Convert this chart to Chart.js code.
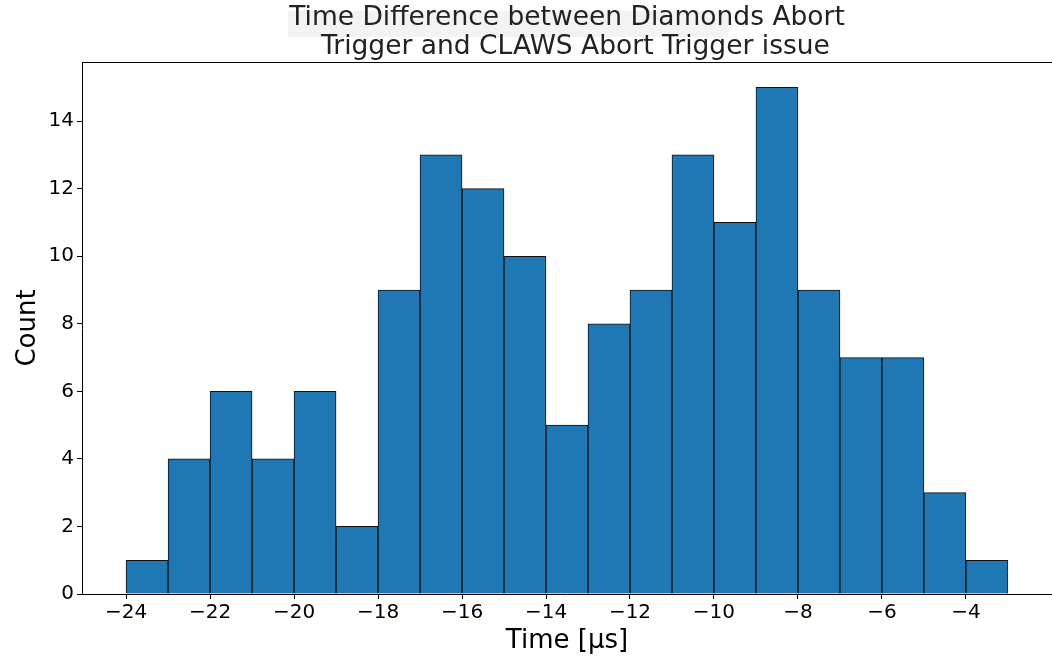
<!DOCTYPE html>
<html>
<head>
<meta charset="utf-8">
<script src="https://cdn.jsdelivr.net/npm/chart.js@4"></script>
<style>
  html, body { margin: 0; padding: 0; background: #fff; }
  #wrap { width: 1052px; height: 656px; }
</style>
</head>
<body>
<div id="wrap"><canvas id="chart"></canvas></div>
<script>
// histogram bins (left edge of each 1 µs bin) and counts
const binLeft = [-24, -23, -22, -21, -20, -19, -18, -17, -16, -15, -14, -13, -12, -11, -10, -9, -8, -7, -6, -5, -4];
const counts  = [1, 4, 6, 4, 6, 2, 9, 13, 12, 10, 5, 8, 9, 13, 11, 15, 9, 7, 7, 3, 1];
const xTicks = [-24, -22, -20, -18, -16, -14, -12, -10, -8, -6, -4];
const yTicks = [0, 2, 4, 6, 8, 10, 12, 14];
const titleLines = ['Time Difference between Diamonds Abort', '  Trigger and CLAWS Abort Trigger issue'];

const binWidth = 1;
const points = binLeft.map((x, i) => ({ x: x + binWidth / 2, y: counts[i] }));

// top spine + faint box behind first title line
const framePlugin = {
    id: 'frame',
    beforeDraw(chart) {
        const ctx = chart.ctx;
        ctx.save();
        ctx.fillStyle = '#f3f3f3';
        ctx.fillRect(288, 11, 440, 26);
        ctx.restore();
    },
    afterDraw(chart) {
        const a = chart.chartArea;
        const ctx = chart.ctx;
        ctx.save();
        ctx.strokeStyle = '#000';
        ctx.lineWidth = 1;
        ctx.beginPath();
        ctx.moveTo(a.left, a.top + 0.5);
        ctx.lineTo(a.right, a.top + 0.5);
        ctx.stroke();
        ctx.restore();
    }
};

const tickFont = { family: 'DejaVu Sans', size: 20 };

new Chart(document.getElementById('chart'), {
    type: 'bar',
    data: {
        datasets: [{
            data: points,
            backgroundColor: '#1f77b4',
            borderColor: '#111',
            borderWidth: 1,
            barPercentage: 1,
            categoryPercentage: 1
        }]
    },
    options: {
        responsive: true,
        maintainAspectRatio: false,
        animation: false,
        layout: { padding: { left: 0, right: 0, top: 0, bottom: 0 } },
        plugins: {
            legend: { display: false },
            tooltip: { enabled: false },
            title: {
                display: true,
                fullSize: false,
                text: titleLines,
                color: '#222',
                font: { family: 'DejaVu Sans', size: 26.5, weight: 'normal', lineHeight: 1.1 },
                padding: { top: 3.7, bottom: 0 }
            }
        },
        scales: {
            x: {
                type: 'linear',
                min: -25.05,
                max: -1.95,
                offset: false,
                grid: { display: true, drawOnChartArea: false, offset: false, drawTicks: true, tickLength: 5, tickColor: '#000' },
                border: { display: true, color: '#000', width: 1 },
                ticks: {
                    font: tickFont,
                    color: '#000',
                    padding: 2,
                    maxRotation: 0,
                    callback: v => (v < 0 ? '\u2212' + Math.abs(v) : '' + v)
                },
                afterBuildTicks: s => { s.ticks = xTicks.map(v => ({ value: v })); },
                afterFit: s => { s.height = 62; },
                title: {
                    display: true,
                    text: 'Time [\u03bcs]',
                    color: '#000',
                    font: { family: 'DejaVu Sans', size: 26, lineHeight: 1 },
                    padding: { top: 0, bottom: 2 }
                }
            },
            y: {
                min: 0,
                max: 15.75,
                grid: { display: true, drawOnChartArea: false, drawTicks: true, tickLength: 5, tickColor: '#000' },
                border: { display: true, color: '#000', width: 1 },
                ticks: { font: tickFont, color: '#000', padding: 3 },
                afterBuildTicks: s => { s.ticks = yTicks.map(v => ({ value: v })); },
                afterFit: s => { s.width = 82; },
                title: {
                    display: true,
                    text: 'Count',
                    color: '#000',
                    font: { family: 'DejaVu Sans', size: 26, lineHeight: 1.2 },
                    padding: { top: 13, bottom: 0 }
                }
            }
        }
    },
    plugins: [framePlugin]
});
</script>
</body>
</html>
